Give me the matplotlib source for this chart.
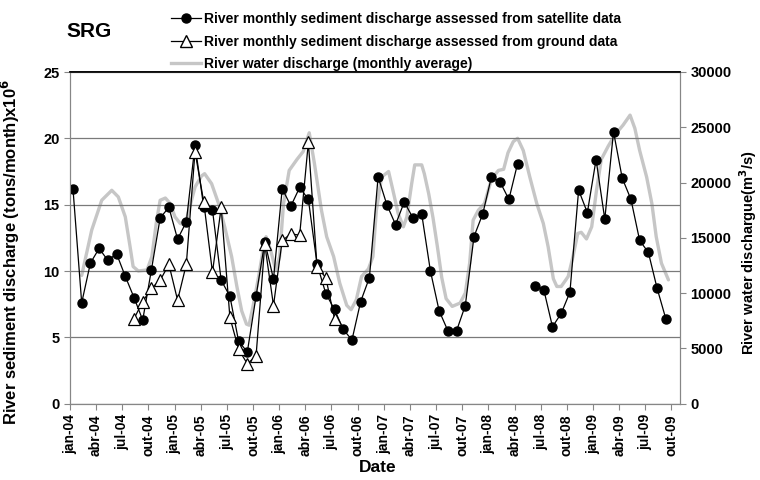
import matplotlib.pyplot as plt
import matplotlib.lines as mlines
import numpy as np

plt.rcParams['font.family'] = ['Liberation Sans', 'DejaVu Sans']
plt.rcParams['font.weight'] = 'bold'

# month index counted from jan-04
n_months = 69
sat_months = list(range(0, 52)) + list(range(53, 69))
sat_sed = [16.2, 7.6, 10.6, 11.7, 10.8, 11.3, 9.6, 8.0, 6.3, 10.1, 14.0, 14.8,
           12.4, 13.7, 19.5, 14.8, 14.6, 9.3, 8.1, 4.7, 3.9, 8.1, 12.2, 9.4,
           16.2, 14.9, 16.3, 15.4, 10.5, 8.3, 7.1, 5.6, 4.8, 7.7, 9.5, 17.1,
           15.0, 13.5, 15.2, 14.0, 14.3, 10.0, 7.0, 5.5, 5.5, 7.4, 12.6, 14.3,
           17.1, 16.7, 15.4, 18.1,
           8.9, 8.6, 5.8, 6.8, 8.4, 16.1, 14.4, 18.4, 13.9, 20.5, 17.0, 15.4,
           12.3, 11.4, 8.7, 6.4]

ground_months = list(range(7, 31))
ground_sed = [6.4, 7.7, 8.7, 9.3, 10.5, 7.8, 10.5, 19.0, 15.2, 9.9, 14.8, 6.5,
              4.1, 3.0, 3.6, 12.0, 7.4, 12.3, 12.8, 12.7, 19.7, 10.3, 9.5, 6.4]

# water discharge (m3/s), monthly running average
flow_months = [1.0, 2.15, 3.3, 4.45, 5.2, 6.0, 6.55, 6.9, 7.5, 8.5, 9.05, 9.6,
               10.0, 10.6, 11.15, 11.7, 12.3, 12.9, 13.2, 14.0, 14.75, 15.1,
               15.9, 16.7, 17.4, 18.2, 18.8, 19.35, 19.9, 20.2, 20.7, 21.3,
               21.8, 22.15, 22.7, 23.25, 23.7, 24.15, 24.8, 25.7, 26.4, 27.1,
               27.7, 28.5, 29.1, 29.9, 30.6, 31.4, 31.9, 32.5, 33.1, 33.9,
               34.4, 34.8, 35.4, 36.2, 36.7, 37.3, 37.9, 38.3, 38.85, 39.2,
               40.0, 40.3, 40.8, 41.3, 41.8, 42.3, 42.8, 43.5, 44.4, 45.0,
               45.5, 45.9, 46.5, 47.2, 48.0, 48.8, 49.4, 49.9, 50.5, 51.0,
               51.65, 52.4, 53.2, 53.95, 54.5, 55.1, 55.5, 56.0, 56.8, 57.35,
               57.9, 58.3, 58.9, 59.5, 60.05, 60.6, 61.4, 62.15, 63.1, 63.9,
               64.45, 65.0, 65.8, 66.4, 66.9, 67.5, 68.3]
flow = [11600, 15700, 18400, 19300, 18700, 16900, 14200, 12400, 12000, 12100,
        13300, 16600, 18400, 18600, 18100, 16900, 16300, 16200, 17200, 19600,
        20600, 20800, 19900, 18100, 16000, 13300, 10600, 8400, 7200, 7100,
        9000, 11500, 13900, 15100, 13800, 12100, 13300, 18100, 21100, 22100,
        22800, 24500, 21700, 17500, 15100, 13300, 10900, 8900, 8500, 9400,
        11500, 12200, 13300, 17500, 20500, 21000, 19300, 17200, 16000, 16900,
        19900, 21600, 21600, 20800, 19000, 16800, 14200, 11400, 9500, 8800,
        9100, 10000, 12700, 16600, 17500, 18100, 20300, 21100, 21200, 22700,
        23700, 24000, 22900, 20500, 18100, 16300, 14200, 11300, 10600, 10600,
        11500, 13300, 15400, 15500, 14900, 16000, 19300, 22100, 23300, 24300,
        25200, 26100, 24900, 22900, 20500, 18100, 15100, 12700, 11200]

tick_labels = [f"{m}-{y:02d}" for y in range(4, 10)
               for m in ("jan", "abr", "jul", "out")]

# points sit a little after the start of their month
shift = 0.35
sat = np.full(n_months, np.nan)
sat[sat_months] = sat_sed
x_sat = np.arange(n_months) + shift
x_ground = np.array(ground_months) + shift
x_flow = np.array(flow_months) + shift

axis_grey = '#868686'
flow_grey = '#c6c6c6'

fig = plt.figure(figsize=(7.6, 4.8), dpi=100)
ax = fig.add_axes([0.092, 0.159, 0.803, 0.691])
ax2 = ax.twinx()
ax.set_zorder(2)
ax2.set_zorder(1)
ax.patch.set_visible(False)

ax2.plot(x_flow, flow, color=flow_grey, lw=2.4, solid_joinstyle='round',
         solid_capstyle='round')
ax.plot(x_sat, sat, color='black', lw=0.9, marker='o', ms=6.5,
        mfc='black', mec='black')
ax.plot(x_ground, ground_sed, color='black', lw=0.9, marker='^', ms=8.5,
        mfc='white', mec='black', mew=0.9)

ax.set_xlim(0, 70)
ax.set_ylim(0, 25)
ax2.set_ylim(0, 30000)
ax.set_yticks(np.arange(0, 26, 5))
ax2.set_yticks(np.arange(0, 30001, 5000))
ax.set_xticks(np.arange(0, 70, 3))
ax.set_xticklabels(tick_labels, rotation=90)

ax.grid(axis='y', color='#7a7a7a', lw=0.9)
ax.set_axisbelow(True)

for a in (ax, ax2):
    for side in ('left', 'right', 'bottom'):
        a.spines[side].set_color(axis_grey)
    a.spines['top'].set_color('black')
    a.spines['top'].set_linewidth(1.1)
ax.tick_params(axis='both', colors=axis_grey, labelcolor='black',
               labelsize=10.5, length=4, direction='out')
ax.tick_params(axis='x', labelsize=10)
ax2.tick_params(axis='y', colors=axis_grey, labelcolor='black',
                labelsize=10.5, length=4, direction='out')

ax.set_ylabel('River sediment discharge (tons/month)x10$^\\mathbf{6}$',
              fontsize=12, fontweight='bold')
ax.yaxis.set_label_coords(-0.079, 0.457)
ax2.set_ylabel('River water dischargue(m$^\\mathbf{3}$/s)',
               fontsize=10.5, fontweight='bold', rotation=90)
ax2.yaxis.set_label_coords(1.094, 0.457)
ax.set_xlabel('Date', fontsize=12.5, fontweight='bold')
ax.xaxis.set_label_coords(0.505, -0.17)

fig.text(0.088, 0.935, 'SRG', fontsize=15, fontweight='bold',
         ha='left', va='center')

handles = [
    mlines.Line2D([], [], color='black', lw=0.9, marker='o', ms=6.5),
    mlines.Line2D([], [], color='black', lw=0.9, marker='^', ms=8.5,
                  mfc='white'),
    mlines.Line2D([], [], color=flow_grey, lw=2.4),
]
labels = ['River monthly sediment discharge assessed from satellite data',
          'River monthly sediment discharge assessed from ground data',
          'River water discharge (monthly average)']
fig.legend(handles, labels, loc='upper left', bbox_to_anchor=(0.21, 0.998),
           frameon=False, fontsize=10, handlelength=2.2, handletextpad=0.2,
           labelspacing=0.62, borderpad=0.3)

fig.savefig('out.png', dpi=100)
